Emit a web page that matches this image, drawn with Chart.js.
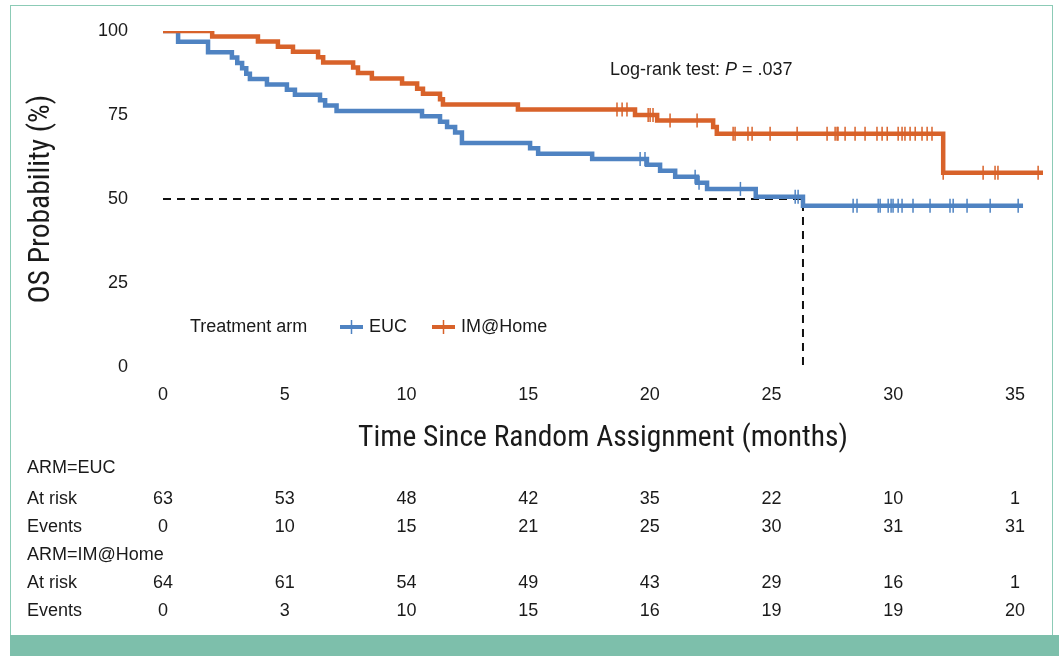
<!DOCTYPE html>
<html>
<head>
<meta charset="utf-8">
<script src="https://cdn.jsdelivr.net/npm/chart.js@4.4.1/dist/chart.umd.min.js"></script>
<style>
html, body { margin: 0; padding: 0; background: #fff; }
#wrap { position: relative; width: 1059px; height: 656px; overflow: hidden; }
#frame { position: absolute; left: 10px; top: 5px; width: 1043px; height: 660px; border: 1.5px solid #8ccbb6; box-sizing: border-box; }
#band { position: absolute; left: 10px; right: 0; top: 635px; bottom: 0; background: #7dbfab; }
canvas { position: absolute; left: 0; top: 0; }
</style>
</head>
<body>
<div id="wrap">
	<div id="frame"></div>
	<div id="band"></div>
	<canvas id="km" width="1059" height="656"></canvas>
</div>
<script>
// Kaplan-Meier steps (months, % surviving after the step)
const eucTimes = [0, 0.62, 1.85, 2.83, 3.05, 3.25, 3.42, 3.57, 4.27, 5.09, 5.42, 6.45, 6.66, 7.13, 10.64, 11.38, 11.67, 12.0, 12.28, 15.08, 15.41, 17.63, 19.88, 20.42, 21.04, 21.94, 22.35, 24.35, 26.29, 35.33];
const eucSurv = [100, 96.8, 93.7, 92.1, 90.5, 88.9, 87.3, 85.7, 84.1, 82.5, 81.0, 79.4, 77.8, 76.2, 74.6, 73.0, 71.4, 69.8, 66.7, 65.1, 63.5, 61.9, 60.2, 58.4, 56.6, 54.8, 53.0, 50.7, 48.0, 48.0];
const eucCensored = [19.6, 19.8, 21.86, 22.02, 23.72, 25.97, 26.09, 28.35, 28.51, 29.38, 29.46, 29.79, 29.91, 29.99, 30.2, 30.36, 30.81, 31.51, 32.33, 32.46, 33.03, 33.98, 35.13];

const imTimes = [0, 2.02, 3.9, 4.72, 5.34, 6.37, 6.58, 7.81, 8.01, 8.58, 9.82, 10.44, 10.68, 11.38, 11.5, 14.58, 19.39, 20.3, 22.6, 22.75, 32.05, 36.15];
const imSurv = [100, 98.4, 96.9, 95.3, 93.8, 92.2, 90.6, 89.1, 87.5, 85.9, 84.4, 82.8, 81.3, 79.7, 78.1, 76.6, 75.0, 73.4, 71.4, 69.4, 57.8, 57.8];
const imCensored = [18.65, 18.86, 19.06, 19.93, 20.01, 20.13, 20.83, 21.94, 23.42, 23.5, 24.03, 24.2, 24.94, 26.05, 27.28, 27.61, 27.69, 27.73, 28.02, 28.43, 28.84, 29.33, 29.54, 29.75, 30.2, 30.36, 30.48, 30.69, 30.9, 31.18, 31.39, 31.59, 32.05, 33.69, 34.18, 34.3, 35.95];

const medianTime = 26.29;

// numbers at risk table
const riskTicks = [0, 5, 10, 15, 20, 25, 30, 35];
const eucAtRisk = [63, 53, 48, 42, 35, 22, 10, 1];
const eucEvents = [0, 10, 15, 21, 25, 30, 31, 31];
const imAtRisk = [64, 61, 54, 49, 43, 29, 16, 1];
const imEvents = [0, 3, 10, 15, 16, 19, 19, 20];

const BLUE = "#4f83c2";
const ORANGE = "#d8622a";
const TEXT = "#1a1a1a";
const SANS = '"Liberation Sans", Arial, sans-serif';
const NARROW = '"Liberation Sans Narrow", "Roboto Condensed", "DejaVu Sans Condensed", "Liberation Sans", sans-serif';

function toPoints(times, values) {
	return times.map((t, i) => ({ x: t, y: values[i] }));
}

// level of the step curve at a censoring time
function levelAt(times, values, t) {
	let v = values[0];
	for (let i = 0; i < times.length; i++) {
		if (times[i] <= t) v = values[i];
	}
	return v;
}

function censorPoints(censored, times, values) {
	return censored.map((t) => ({ x: t, y: levelAt(times, values, t) }));
}

const extras = {
	id: "extras",
	afterDraw(chart) {
		const ctx = chart.ctx;
		const xs = chart.scales.x;
		ctx.save();
		ctx.fillStyle = TEXT;
		ctx.textBaseline = "middle";

		// log-rank annotation
		ctx.textAlign = "left";
		ctx.font = "18px " + SANS;
		let px = 610;
		const part1 = "Log-rank test: ";
		ctx.fillText(part1, px, 70);
		px += ctx.measureText(part1).width;
		ctx.font = "italic 18px " + SANS;
		ctx.fillText("P", px, 70);
		px += ctx.measureText("P").width;
		ctx.font = "18px " + SANS;
		ctx.fillText(" = .037", px, 70);

		// legend inside the plot
		ctx.fillText("Treatment arm", 190, 327);
		const items = [
			{ label: "EUC", color: BLUE, x: 340 },
			{ label: "IM@Home", color: ORANGE, x: 432 },
		];
		items.forEach((it) => {
			ctx.strokeStyle = it.color;
			ctx.lineWidth = 4;
			ctx.beginPath();
			ctx.moveTo(it.x, 327);
			ctx.lineTo(it.x + 23, 327);
			ctx.stroke();
			ctx.lineWidth = 1.5;
			ctx.beginPath();
			ctx.moveTo(it.x + 11.5, 320);
			ctx.lineTo(it.x + 11.5, 334);
			ctx.stroke();
			ctx.fillText(it.label, it.x + 29, 327);
		});

		// risk table
		const rows = [
			{ label: "ARM=EUC", y: 468 },
			{ label: "At risk", y: 499, values: eucAtRisk },
			{ label: "Events", y: 527, values: eucEvents },
			{ label: "ARM=IM@Home", y: 555 },
			{ label: "At risk", y: 583, values: imAtRisk },
			{ label: "Events", y: 611, values: imEvents },
		];
		ctx.font = "18px " + SANS;
		rows.forEach((row) => {
			ctx.textAlign = "left";
			ctx.fillText(row.label, 27, row.y);
			if (!row.values) return;
			ctx.textAlign = "center";
			row.values.forEach((v, i) => {
				ctx.fillText(String(v), xs.getPixelForValue(riskTicks[i]), row.y);
			});
		});
		ctx.restore();
	},
};

new Chart(document.getElementById("km").getContext("2d"), {
	type: "line",
	data: {
		datasets: [
			{
				label: "EUC censored",
				data: censorPoints(eucCensored, eucTimes, eucSurv),
				showLine: false,
				pointStyle: "line",
				rotation: 90,
				pointRadius: 7,
				borderWidth: 1.5,
				borderColor: BLUE,
			},
			{
				label: "IM@Home censored",
				data: censorPoints(imCensored, imTimes, imSurv),
				showLine: false,
				pointStyle: "line",
				rotation: 90,
				pointRadius: 7,
				borderWidth: 1.5,
				borderColor: ORANGE,
			},
			{
				label: "IM@Home",
				data: toPoints(imTimes, imSurv),
				stepped: "before",
				borderColor: ORANGE,
				borderWidth: 4.5,
				pointRadius: 0,
			},
			{
				label: "EUC",
				data: toPoints(eucTimes, eucSurv),
				stepped: "before",
				borderColor: BLUE,
				borderWidth: 4.5,
				pointRadius: 0,
			},
			{
				label: "Median",
				data: [
					{ x: 0, y: 50 },
					{ x: medianTime, y: 50 },
					{ x: medianTime, y: 0 },
				],
				borderColor: "#111",
				borderWidth: 2,
				borderDash: [8, 6],
				pointRadius: 0,
			},
		],
	},
	options: {
		responsive: false,
		animation: false,
		layout: { padding: { left: 0, top: 31, right: 16, bottom: 199 } },
		plugins: { legend: { display: false }, tooltip: { enabled: false } },
		scales: {
			x: {
				type: "linear",
				min: 0,
				max: 36.15,
				border: { display: false },
				grid: { display: false, drawTicks: true, tickLength: 17 },
				ticks: {
					stepSize: 5,
					includeBounds: false,
					padding: 0,
					color: TEXT,
					font: { family: SANS, size: 18 },
				},
				title: {
					display: true,
					text: "Time Since Random Assignment (months)",
					color: TEXT,
					font: { family: NARROW, size: 29.5, lineHeight: 1 },
					padding: { top: 0, bottom: 4 },
				},
				afterFit(scale) {
					scale.height = 90;
				},
			},
			y: {
				min: 0,
				max: 100,
				border: { display: false },
				grid: { display: false, drawTicks: true, tickLength: 35 },
				ticks: {
					stepSize: 25,
					padding: 0,
					color: TEXT,
					font: { family: SANS, size: 18 },
				},
				title: {
					display: true,
					text: "OS Probability (%)",
					color: TEXT,
					font: { family: NARROW, size: 29.5, lineHeight: 1 },
					padding: { top: 27, bottom: 0 },
				},
				afterFit(scale) {
					scale.width = 163;
				},
			},
		},
	},
	plugins: [extras],
});
</script>
</body>
</html>
